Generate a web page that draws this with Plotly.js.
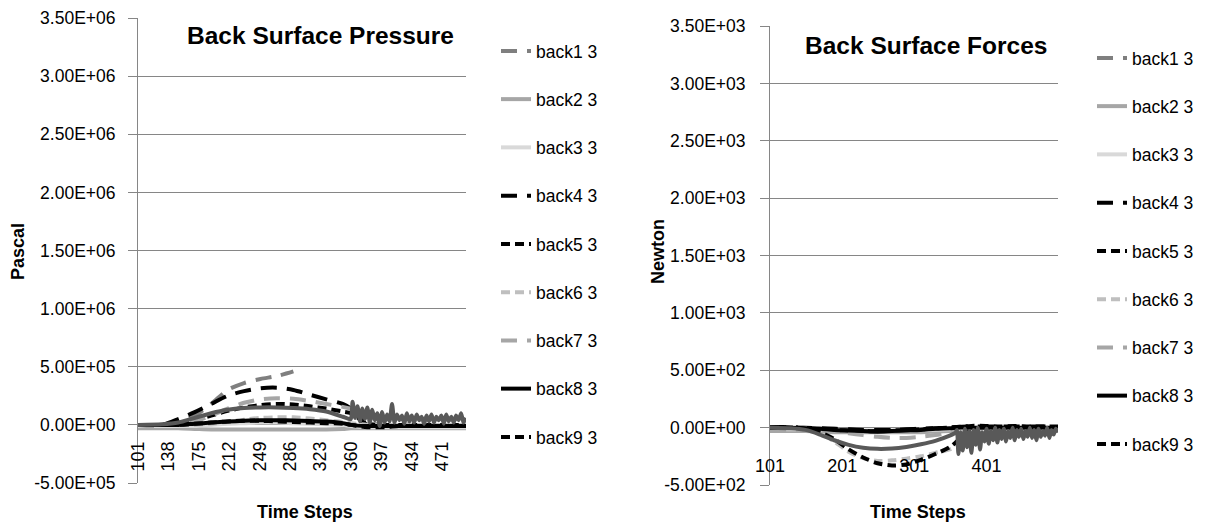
<!DOCTYPE html>
<html>
<head>
<meta charset="utf-8">
<script src="https://cdn.plot.ly/plotly-3.0.1.min.js"></script>
<style>html,body{margin:0;padding:0;background:#fff;}#chart{width:1211px;height:529px;}</style>
</head>
<body>
<div id="chart"></div>
<script>
// ---------- data ----------
const seriesNames = ['back1 3','back2 3','back3 3','back4 3','back5 3','back6 3','back7 3','back8 3','back9 3'];

const steps = [101,130,150,170,190,210,230,250,270,290,310,330,350,360,380,400,420,440,460,480,500];
const stepsNoisy = [101,130,150,170,190,210,230,250,270,290,310,330,350,358,
  360,362,365,368,371,374,377,380,383,386,389,392,395,398,401,404,407,410,413,416,419,422,425,428,431,434,437,440,443,446,449,452,455,458,461,464,467,470,473,476,479,482,485,488,491,494,497,500];

const tickStepsP = [101,138,175,212,249,286,323,360,397,434,471];
const tickStepsF = [101,201,301,401];
const yTickValsP = [-5e5,0,5e5,1e6,1.5e6,2e6,2.5e6,3e6,3.5e6];
const yTickTextP = ['-5.00E+05','0.00E+00','5.00E+05','1.00E+06','1.50E+06','2.00E+06','2.50E+06','3.00E+06','3.50E+06'];
const yTickValsF = [-500,0,500,1000,1500,2000,2500,3000,3500];
const yTickTextF = ['-5.00E+02','0.00E+00','5.00E+02','1.00E+03','1.50E+03','2.00E+03','2.50E+03','3.00E+03','3.50E+03'];

// Back surface pressure (Pa)
const pBack1 = [0,0,2e4,8e4,1.8e5,3.0e5,3.6e5,3.95e5,4.2e5,4.6e5,null,null,null,null,null,null,null,null,null,null,null];
const pBack2 = [-3e4,-3e4,-3e4,-3.5e4,-4e4,-4e4,-4e4,-4e4,-4e4,-4e4,-4e4,-4e4,-3.5e4,-3e4,-3e4,-3e4,-3e4,-3e4,-3e4,-3e4,-3e4];
const pBack3 = [-1e4,-1e4,-1e4,-1e4,0,1e4,1.5e4,2e4,2e4,1.5e4,1e4,5e3,0,-1e4,-2e4,-2e4,-2e4,-2e4,-2e4,-2e4,-2e4];
const pBack4 = [0,0,5e4,1.1e5,1.8e5,2.5e5,2.9e5,3.15e5,3.2e5,3.0e5,2.6e5,2.2e5,1.8e5,1.4e5,0,-1e4,0,0,0,0,0];
const pBack5 = [0,0,1e4,4e4,8e4,1.2e5,1.5e5,1.7e5,1.8e5,1.75e5,1.6e5,1.4e5,1.15e5,1.0e5,1e4,0,0,0,0,0,0];
const pBack6 = [0,0,0,0,1e4,2.5e4,4.5e4,6e4,6.5e4,6.5e4,5.5e4,4e4,2.5e4,1.5e4,0,0,0,0,0,0,0];
const pBack7 = [0,0,1e4,3e4,8e4,1.4e5,1.9e5,2.2e5,2.3e5,2.25e5,2.05e5,1.8e5,1.55e5,1.4e5,null,null,null,null,null,null,null];
const pBack8 = [0,0,0,1e4,2e4,3e4,3.5e4,4e4,4e4,3.8e4,3.3e4,2.8e4,1.5e4,0,-1e4,-1e4,-1e4,-1e4,-1e4,-1e4,-1e4];
const pBack9 = [0,0,0,1e4,2e4,3e4,3.5e4,3.5e4,3e4,2.5e4,2e4,1.5e4,1e4,0,-2e4,-2e4,-1e4,-1e4,-1e4,-1e4,-1e4];
const pBack10 = [0,5e3,2e4,6e4,1.0e5,1.3e5,1.45e5,1.5e5,1.5e5,1.45e5,1.35e5,1.15e5,7e4,5e4,
  5e4,2.0e5,6e4,1.6e5,3e4,1.4e5,5e4,1.5e5,2e4,1.3e5,4e4,1.0e5,-1e4,1.1e5,2e4,9e4,3e4,1.8e5,2e4,9e4,4e4,8e4,1e4,1.0e5,3e4,8e4,2e4,9e4,4e4,7e4,1e4,8e4,3e4,9e4,2e4,7e4,4e4,8e4,1e4,9e4,3e4,7e4,2e4,8e4,4e4,1.0e5,2e4,6e4];

// Back surface forces (N)
const fBack1 = [-5,-5,-5,-8,-10,-12,-15,-15,-15,-12,-10,-8,-5,-5,-5,-5,-5,-5,-5,-5,-5];
const fBack2 = [-30,-30,-30,-35,-40,-40,-40,-40,-40,-40,-40,-35,-30,-30,-30,-30,-30,-30,-30,-30,-30];
const fBack3 = [-15,-15,-15,-18,-20,-22,-25,-25,-25,-22,-20,-18,-15,-15,-15,-15,-15,-15,-15,-15,-15];
const fBack4 = [5,5,0,-5,-10,-15,-20,-20,-20,-15,-10,-5,0,5,10,10,10,10,10,10,5];
const fBack5 = [0,0,-5,-10,-20,-25,-30,-30,-25,-20,-15,-5,0,5,15,15,10,15,10,10,10];
const fBack6 = [0,0,0,-40,-120,-210,-265,-290,-285,-270,-250,-220,-190,-160,null,null,null,null,null,null,null];
const fBack7 = [-20,-20,-20,-25,-35,-50,-65,-80,-90,-90,-80,-65,-40,-25,null,null,null,null,null,null,null];
const fBack8 = [0,0,-5,-10,-20,-25,-30,-35,-30,-25,-20,-10,-5,0,0,0,0,0,0,0,0];
const fBack9 = [0,0,-10,-40,-100,-190,-260,-310,-330,-320,-280,-230,-170,-120,-10,null,null,null,null,null,null];
const fBack10 = [0,-5,-20,-60,-110,-150,-175,-185,-182,-168,-145,-115,-70,-45,
  -20,-230,-40,-200,-10,-170,-30,-220,-20,-150,0,-190,-40,-120,-10,-140,-30,-110,0,-130,-20,-100,-10,-120,-30,-90,0,-110,-20,-80,-10,-100,-30,-80,0,-90,-20,-110,-10,-80,-30,-70,0,-90,-20,-60,-10,-40];

// ---------- styles ----------
const LONG = '16px,10px', SHORT = '9px,5px';
const styles = [
  {color:'#7f7f7f', dash:LONG},
  {color:'#a6a6a6', dash:'solid'},
  {color:'#d9d9d9', dash:'solid'},
  {color:'#000000', dash:LONG},
  {color:'#000000', dash:SHORT},
  {color:'#bfbfbf', dash:SHORT},
  {color:'#a6a6a6', dash:LONG},
  {color:'#000000', dash:'solid'},
  {color:'#000000', dash:SHORT}
];
const extraColor = '#595959';

const pSeries = [pBack1,pBack2,pBack3,pBack4,pBack5,pBack6,pBack7,pBack8,pBack9];
const fSeries = [fBack1,fBack2,fBack3,fBack4,fBack5,fBack6,fBack7,fBack8,fBack9];

const W = 4;
const traces = [];
pSeries.forEach((ys,i)=>traces.push({
  x: steps, y: ys, name: seriesNames[i], type:'scatter', mode:'lines',
  line:{color:styles[i].color, dash:styles[i].dash, width:W, shape:'spline', smoothing:0.8},
  xaxis:'x', yaxis:'y', legend:'legend', legendgroup:'p'+i
}));
traces.push({x: stepsNoisy, y: pBack10, name:'back10 3', type:'scatter', mode:'lines',
  line:{color:extraColor, width:W, shape:'spline', smoothing:0.6}, xaxis:'x', yaxis:'y', showlegend:false});
fSeries.forEach((ys,i)=>traces.push({
  x: steps, y: ys, name: seriesNames[i], type:'scatter', mode:'lines',
  line:{color:styles[i].color, dash:styles[i].dash, width:W, shape:'spline', smoothing:0.8},
  xaxis:'x2', yaxis:'y2', legend:'legend2', legendgroup:'f'+i
}));
traces.push({x: stepsNoisy, y: fBack10, name:'back10 3', type:'scatter', mode:'lines',
  line:{color:extraColor, width:W, shape:'spline', smoothing:0.6}, xaxis:'x2', yaxis:'y2', showlegend:false});

// ---------- layout ----------
const FW = 1211, FH = 529;
const FONT = 'Liberation Sans, Arial, sans-serif';
const GRID = '#868686';
const yDomP = [(FH-483)/FH, (FH-18)/FH];
const yDomF = [(FH-485)/FH, (FH-26)/FH];
const zeroPos = d => d[0] + (d[1]-d[0])*(500/4000);

const yCommon = {
  showgrid:true, gridcolor:GRID, gridwidth:1, zeroline:false,
  showline:true, linecolor:GRID, linewidth:1,
  ticks:'outside', ticklen:9, tickcolor:GRID, tickwidth:1,
  tickfont:{family:FONT, size:17.5, color:'#000'}, fixedrange:true
};
const xCommon = {
  range:[101,500], showgrid:false, zeroline:false, showline:false, ticks:'',
  tickfont:{family:FONT, size:18, color:'#000'}, anchor:'free', fixedrange:true
};

const legendCommon = {
  font:{family:FONT, size:17.5, color:'#000'}, bgcolor:'rgba(0,0,0,0)',
  tracegroupgap:22.5, yanchor:'top', xanchor:'left', itemwidth:30
};

const layout = {
  width:FW, height:FH, margin:{l:0,r:0,t:0,b:0},
  paper_bgcolor:'#fff', plot_bgcolor:'#fff', showlegend:true,
  xaxis: Object.assign({}, xCommon, {domain:[138/FW, 466/FW], position:zeroPos(yDomP),
    tickvals:tickStepsP, ticktext:tickStepsP.map(String), tickangle:-90, ticklabelstandoff:12}),
  yaxis: Object.assign({}, yCommon, {domain:yDomP, range:[-5e5,3.5e6], tickvals:yTickValsP, ticktext:yTickTextP, anchor:'x', ticklabelstandoff:9}),
  xaxis2: Object.assign({}, xCommon, {domain:[770/FW, 1058/FW], position:zeroPos(yDomF),
    tickvals:tickStepsF, ticktext:tickStepsF.map(String), tickangle:0, ticklabelstandoff:25}),
  yaxis2: Object.assign({}, yCommon, {domain:yDomF, range:[-500,3500], tickvals:yTickValsF, ticktext:yTickTextF, anchor:'x2', ticklabelstandoff:11}),
  legend: Object.assign({}, legendCommon, {x:496/FW, y:(FH-33)/FH}),
  legend2: Object.assign({}, legendCommon, {x:1092/FW, y:(FH-40)/FH}),
  annotations:[
    {text:'<b>Back Surface Pressure</b>', xref:'paper', yref:'paper', x:320/FW, y:(FH-36)/FH, showarrow:false,
      font:{family:FONT, size:24.5, color:'#000'}, xanchor:'center', yanchor:'middle'},
    {text:'<b>Back Surface Forces</b>', xref:'paper', yref:'paper', x:926/FW, y:(FH-45)/FH, showarrow:false,
      font:{family:FONT, size:24.5, color:'#000'}, xanchor:'center', yanchor:'middle'},
    {text:'<b>Pascal</b>', xref:'paper', yref:'paper', x:18/FW, y:(FH-252)/FH, showarrow:false, textangle:-90,
      font:{family:FONT, size:18, color:'#000'}, xanchor:'center', yanchor:'middle'},
    {text:'<b>Newton</b>', xref:'paper', yref:'paper', x:658/FW, y:(FH-251)/FH, showarrow:false, textangle:-90,
      font:{family:FONT, size:18, color:'#000'}, xanchor:'center', yanchor:'middle'},
    {text:'<b>Time Steps</b>', xref:'paper', yref:'paper', x:305/FW, y:(FH-512)/FH, showarrow:false,
      font:{family:FONT, size:18, color:'#000'}, xanchor:'center', yanchor:'middle'},
    {text:'<b>Time Steps</b>', xref:'paper', yref:'paper', x:918/FW, y:(FH-512)/FH, showarrow:false,
      font:{family:FONT, size:18, color:'#000'}, xanchor:'center', yanchor:'middle'}
  ]
};

Plotly.newPlot('chart', traces, layout, {displayModeBar:false, staticPlot:true});
</script>
</body>
</html>
